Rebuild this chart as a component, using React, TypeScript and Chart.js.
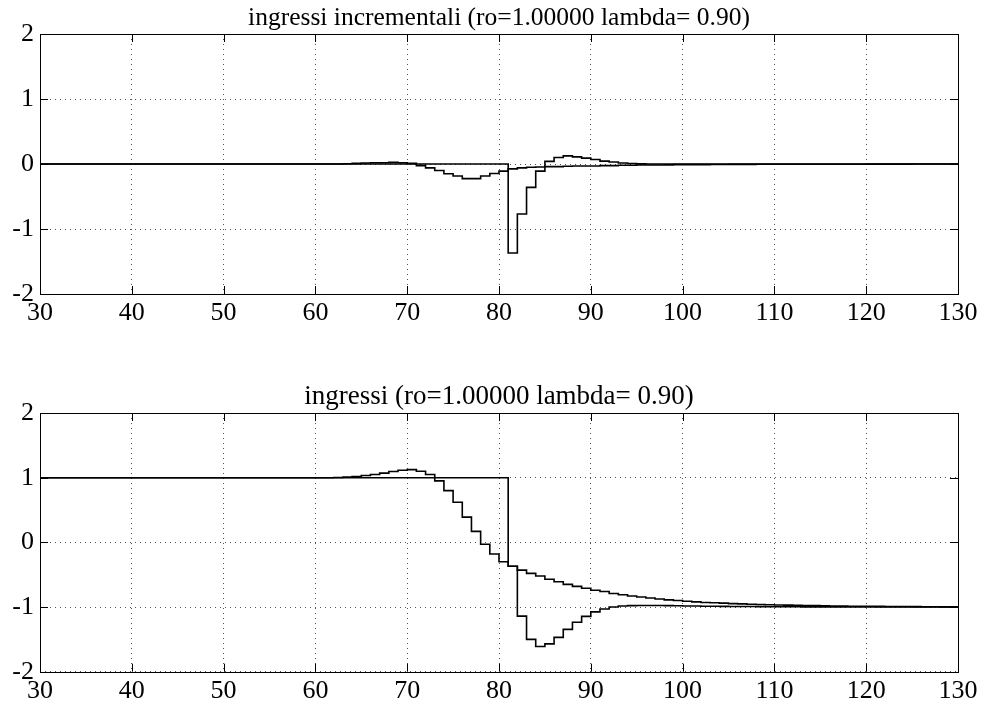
import React, { useEffect, useRef } from 'react';
import { Chart, registerables } from 'chart.js';

Chart.register(...registerables);

const FONT = '"Liberation Serif", "Times New Roman", Times, serif';

// time samples (x axis) 30..130
const timeSteps: number[] = Array.from({ length: 101 }, (_, i) => 30 + i);

const xTickStep = 10;
const yTickStep = 1;

const topTitle = 'ingressi incrementali (ro=1.00000 lambda= 0.90)';
const bottomTitle = 'ingressi (ro=1.00000 lambda= 0.90)';

// incremental inputs (top panel)
const deltaU1: number[] = [
  0, 0, 0, 0, 0, 0, 0, 0, 0, 0,
  0, 0, 0, 0, 0, 0, 0, 0, 0, 0,
  0, 0, 0, 0, 0, 0, 0, 0, 0, 0,
  0, 0, 0, 0, 0, 0, 0, 0, 0, 0,
  0, 0, 0, 0, 0, 0, 0, 0, 0, 0,
  0, -1.37, -0.77, -0.36, -0.11, 0.04, 0.1, 0.125, 0.11, 0.09,
  0.07, 0.045, 0.03, 0.015, 0.007, 0.002, 0, -0.001, -0.002, -0.002,
  -0.002, -0.002, -0.002, -0.002, -0.002, -0.002, -0.002, -0.002, -0.002, -0.002,
  -0.001, -0.001, -0.001, -0.001, -0.001, -0.001, -0.001, -0.001, -0.001, -0.001,
  0, 0, 0, 0, 0, 0, 0, 0, 0, 0,
  0,
];

const deltaU2: number[] = [
  0, 0, 0, 0, 0, 0, 0, 0, 0, 0,
  0, 0, 0, 0, 0, 0, 0, 0, 0, 0,
  0, 0, 0, 0, 0, 0, 0, 0, 0, 0,
  0, 0, 0, 0.005, 0.01, 0.015, 0.02, 0.02, 0.025, 0.02,
  0.01, -0.025, -0.06, -0.1, -0.15, -0.185, -0.225, -0.225, -0.185, -0.145,
  -0.11, -0.075, -0.06, -0.05, -0.045, -0.04, -0.04, -0.035, -0.03, -0.03,
  -0.03, -0.025, -0.025, -0.02, -0.02, -0.015, -0.015, -0.015, -0.015, -0.01,
  -0.01, -0.01, -0.01, -0.007, -0.007, -0.006, -0.005, -0.005, -0.004, -0.004,
  -0.003, -0.003, -0.003, -0.003, -0.003, -0.003, -0.003, -0.003, -0.003, -0.003,
  -0.002, -0.002, -0.002, -0.002, -0.002, -0.001, -0.001, -0.001, -0.001, -0.001,
  -0.001,
];

// inputs (bottom panel)
const u1: number[] = [
  1, 1, 1, 1, 1, 1, 1, 1, 1, 1,
  1, 1, 1, 1, 1, 1, 1, 1, 1, 1,
  1, 1, 1, 1, 1, 1, 1, 1, 1, 1,
  1, 1, 1, 1, 1, 1, 1, 1, 1, 1,
  1, 1, 1, 1, 1, 1, 1, 1, 1, 1,
  1, -0.37, -1.14, -1.5, -1.61, -1.57, -1.47, -1.345, -1.235, -1.145,
  -1.075, -1.03, -1, -0.985, -0.978, -0.976, -0.976, -0.977, -0.979, -0.981,
  -0.983, -0.985, -0.987, -0.989, -0.99, -0.991, -0.992, -0.993, -0.994, -0.995,
  -0.995, -0.996, -0.996, -0.997, -0.997, -0.997, -0.998, -0.998, -0.998, -0.998,
  -0.999, -0.999, -0.999, -0.999, -0.999, -0.999, -1, -1, -1, -1,
  -1,
];

const u2: number[] = [
  1, 1, 1, 1, 1, 1, 1, 1, 1, 1,
  1, 1, 1, 1, 1, 1, 1, 1, 1, 1,
  1, 1, 1, 1, 1, 1, 1, 1, 1, 1,
  1, 1, 1.003, 1.008, 1.018, 1.033, 1.05, 1.07, 1.095, 1.115,
  1.125, 1.1, 1.05, 0.95, 0.8, 0.62, 0.39, 0.17, -0.03, -0.18,
  -0.3, -0.37, -0.43, -0.48, -0.52, -0.57, -0.61, -0.65, -0.68, -0.71,
  -0.74, -0.76, -0.79, -0.81, -0.83, -0.845, -0.86, -0.875, -0.89, -0.9,
  -0.91, -0.92, -0.93, -0.935, -0.94, -0.947, -0.952, -0.957, -0.961, -0.965,
  -0.968, -0.971, -0.974, -0.977, -0.979, -0.981, -0.983, -0.985, -0.987, -0.988,
  -0.989, -0.99, -0.991, -0.992, -0.993, -0.994, -0.995, -0.996, -0.997, -0.998,
  -0.998,
];

const boxTicks = {
  id: 'boxTicks',
  afterDatasetsDraw(chart: any) {
    const { ctx, chartArea: a, scales } = chart;
    const xs = scales.x;
    const ys = scales.y;
    const L = 8;
    ctx.save();
    ctx.strokeStyle = '#000';
    ctx.lineWidth = 1;
    ctx.setLineDash([]);
    ctx.beginPath();
    xs.ticks.forEach((t: any) => {
      const px = Math.round(xs.getPixelForValue(t.value)) + 0.5;
      ctx.moveTo(px, a.bottom);
      ctx.lineTo(px, a.bottom - L);
      ctx.moveTo(px, a.top);
      ctx.lineTo(px, a.top + L);
    });
    ys.ticks.forEach((t: any) => {
      const py = Math.round(ys.getPixelForValue(t.value)) + 0.5;
      ctx.moveTo(a.left, py);
      ctx.lineTo(a.left + L, py);
      ctx.moveTo(a.right, py);
      ctx.lineTo(a.right - L, py);
    });
    ctx.stroke();
    ctx.strokeRect(
      Math.round(a.left) + 0.5,
      Math.round(a.top) + 0.5,
      Math.round(a.right) - Math.round(a.left),
      Math.round(a.bottom) - Math.round(a.top)
    );
    ctx.restore();
  },
};

function toPoints(values: number[]) {
  return timeSteps.map((t, i) => ({ x: t, y: values[i] }));
}

type PanelProps = {
  title: string;
  titleSize: number;
  seriesA: number[];
  seriesB: number[];
  top: number;
  height: number;
  xAxisHeight: number;
};

function Panel({ title, titleSize, seriesA, seriesB, top, height, xAxisHeight }: PanelProps) {
  const ref = useRef<HTMLCanvasElement | null>(null);
  useEffect(() => {
    if (!ref.current) return;
    const tickFont = { family: FONT, size: 26, weight: 'normal' as const };
    const chart = new Chart(ref.current, {
      type: 'line',
      data: {
        datasets: [
          {
            data: toPoints(seriesB),
            stepped: true,
            borderColor: '#000',
            borderWidth: 1.6,
            pointRadius: 0,
            fill: false,
          },
          {
            data: toPoints(seriesA),
            stepped: true,
            borderColor: '#000',
            borderWidth: 1.6,
            pointRadius: 0,
            fill: false,
          },
        ],
      },
      options: {
        animation: false,
        responsive: false,
        events: [],
        layout: { padding: { left: 0, right: 27, top: 0, bottom: 0 } },
        plugins: {
          legend: { display: false },
          tooltip: { enabled: false },
          title: {
            display: true,
            text: title,
            color: '#000',
            fullSize: false,
            font: { family: FONT, size: titleSize, weight: 'normal', lineHeight: 30 / titleSize },
            padding: { top: 3, bottom: 1 },
          },
        },
        scales: {
          x: {
            type: 'linear',
            min: 30,
            max: 130,
            ticks: {
              stepSize: xTickStep,
              color: '#000',
              font: tickFont,
              padding: 4,
              autoSkip: false,
              maxRotation: 0,
            },
            grid: { color: '#555', lineWidth: 1, drawTicks: false },
            border: { display: false, dash: [1, 4] },
            afterFit(s: any) {
              s.height = xAxisHeight;
            },
          },
          y: {
            type: 'linear',
            min: -2,
            max: 2,
            ticks: {
              stepSize: yTickStep,
              color: '#000',
              font: tickFont,
              padding: 6,
            },
            grid: { color: '#555', lineWidth: 1, drawTicks: false },
            border: { display: false, dash: [1, 4] },
            afterFit(s: any) {
              s.width = 40;
            },
          },
        },
      },
      plugins: [boxTicks],
    });
    return () => chart.destroy();
  }, [title, titleSize, seriesA, seriesB, height, xAxisHeight]);

  return (
    <canvas
      ref={ref}
      width={985}
      height={height}
      style={{ position: 'absolute', left: 0, top, width: 985, height, display: 'block' }}
    />
  );
}

export default function App() {
  return (
    <div
      style={{
        position: 'fixed',
        left: 0,
        top: 0,
        width: 985,
        height: 704,
        background: '#fff',
        overflow: 'hidden',
      }}
    >
      <Panel title={topTitle} titleSize={25.5} seriesA={deltaU1} seriesB={deltaU2} top={0} height={330} xAxisHeight={36} />
      <Panel title={bottomTitle} titleSize={27} seriesA={u1} seriesB={u2} top={379} height={325} xAxisHeight={32.3} />
    </div>
  );
}
